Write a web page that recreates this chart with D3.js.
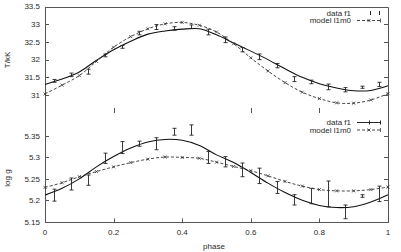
<!DOCTYPE html>
<html>
<head>
<meta charset="utf-8">
<script src="https://cdn.jsdelivr.net/npm/d3@7"></script>
<style>
body { margin: 0; background: #fff; }
text { font-family: "Liberation Sans", Arial, sans-serif; font-size: 8px; fill: #2a2a2a; }
</style>
</head>
<body>
<div id="chart"></div>
<script>
// phase grid of the two smooth curves
var phaseGrid = [0,0.05,0.1,0.15,0.2,0.25,0.3,0.35,0.4,0.45,0.5,0.55,0.6,0.65,0.7,0.75,0.8,0.85,0.9,0.95,1];
var teffFit = [31.30,31.45,31.65,31.98,32.28,32.52,32.72,32.81,32.86,32.87,32.70,32.47,32.24,32.00,31.74,31.50,31.32,31.20,31.12,31.13,31.26];
var teffModel = [31.03,31.28,31.55,31.95,32.35,32.65,32.87,33.01,33.05,32.97,32.78,32.45,32.05,31.68,31.35,31.08,30.90,30.78,30.77,30.86,31.04];
var loggFit = [5.212,5.228,5.250,5.278,5.302,5.322,5.336,5.342,5.340,5.328,5.306,5.288,5.265,5.240,5.218,5.200,5.188,5.183,5.185,5.196,5.213];
var loggModel = [5.230,5.241,5.255,5.267,5.278,5.288,5.296,5.301,5.300,5.298,5.289,5.279,5.269,5.257,5.244,5.233,5.225,5.222,5.222,5.225,5.231];

// measured points (data f1)
var dataPhase = [0.025,0.075,0.125,0.175,0.225,0.275,0.325,0.375,0.425,0.475,0.525,0.575,0.625,0.675,0.725,0.775,0.825,0.875,0.925,0.975];
var teffData = [31.40,31.57,31.66,32.12,32.36,32.75,32.92,32.88,32.93,32.78,32.56,32.28,32.08,31.83,31.45,31.37,31.23,31.15,31.22,31.30];
var teffErr = [0.04,0.05,0.07,0.04,0.04,0.05,0.07,0.05,0.05,0.08,0.08,0.06,0.08,0.06,0.07,0.05,0.08,0.06,0.03,0.06];
var loggData = [5.212,5.238,5.247,5.298,5.323,5.332,5.332,5.360,5.364,5.300,5.290,5.271,5.257,5.230,5.201,5.210,5.215,5.173,5.210,5.215];
var loggErr = [0.014,0.014,0.012,0.012,0.014,0.006,0.014,0.008,0.012,0.014,0.012,0.016,0.018,0.014,0.012,0.018,0.030,0.016,0.003,0.018];

var xTicks = [0,0.2,0.4,0.6,0.8,1];
var teffTicks = [31,31.5,32,32.5,33,33.5];
var loggTicks = [5.15,5.2,5.25,5.3,5.35];
var stubTicks = [0.2,0.6,0.8];

var width = 401, height = 252;
var svg = d3.select("#chart").append("svg").attr("width", width).attr("height", height);

var x = d3.scaleLinear().domain([0, 1]).range([45, 388]);
var yT = d3.scaleLinear().domain([30.5, 33.5]).range([112.75, 6.5]);
var yG = d3.scaleLinear().domain([5.15, 5.4]).range([221.7, 114.6]);

var frameTop = Math.round(yT(33.5)) + 0.5, frameBottom = Math.round(yG(5.15)) + 0.5;

// frame
svg.append("path")
    .attr("d", "M" + (x(0) + 0.5) + "," + frameTop + "V" + frameBottom + "H" + (x(1) + 0.5) + "V" + frameTop + "Z")
    .attr("fill", "none").attr("stroke", "#555").attr("stroke-width", 1);

function yTicks(scale, ticks) {
    ticks.forEach(function (t) {
        var yy = Math.round(scale(t)) + 0.5;
        svg.append("line").attr("x1", x(0)).attr("x2", x(0) + 4).attr("y1", yy).attr("y2", yy).attr("stroke", "#555");
        svg.append("line").attr("x1", x(1)).attr("x2", x(1) - 4).attr("y1", yy).attr("y2", yy).attr("stroke", "#555");
        svg.append("text").attr("x", x(0) - 5).attr("y", scale(t)).attr("dy", "0.35em")
            .attr("text-anchor", "end").text(t);
    });
}
yTicks(yT, teffTicks);
yTicks(yG, loggTicks);

xTicks.forEach(function (t) {
    var xx = Math.round(x(t)) + 0.5;
    svg.append("line").attr("x1", xx).attr("x2", xx).attr("y1", frameBottom).attr("y2", frameBottom - 4).attr("stroke", "#555");
    svg.append("text").attr("x", x(t)).attr("y", 235).attr("text-anchor", "middle").text(t);
});
stubTicks.forEach(function (t) {
    var xx = Math.round(x(t)) + 0.5;
    svg.append("line").attr("x1", xx).attr("x2", xx).attr("y1", 108).attr("y2", 113).attr("stroke", "#555");
});

// axis titles
svg.append("text").attr("transform", "translate(10,60) rotate(-90)").attr("text-anchor", "middle").text("T/kK");
svg.append("text").attr("transform", "translate(10,178) rotate(-90)").attr("text-anchor", "middle").text("log g");
svg.append("text").attr("x", 214).attr("y", 249).attr("text-anchor", "middle").text("phase");

function drawPanel(y, fit, model, data, err) {
    var line = d3.line().x(function (d, i) { return x(phaseGrid[i]); }).y(function (d) { return y(d); })
        .curve(d3.curveCatmullRom);
    svg.append("path").attr("d", line(fit)).attr("fill", "none").attr("stroke", "#111").attr("stroke-width", 1.1);
    svg.append("path").attr("d", line(model)).attr("fill", "none").attr("stroke", "#333")
        .attr("stroke-width", 0.9).attr("stroke-dasharray", "3,2");
    // x markers on the model
    model.forEach(function (v, i) {
        var cx = x(phaseGrid[i]), cy = y(v);
        svg.append("path").attr("d", "M" + (cx - 1.5) + "," + (cy - 1.5) + "L" + (cx + 1.5) + "," + (cy + 1.5) +
            "M" + (cx - 1.5) + "," + (cy + 1.5) + "L" + (cx + 1.5) + "," + (cy - 1.5))
            .attr("stroke", "#333").attr("stroke-width", 0.8);
    });
    // error bars
    data.forEach(function (v, i) {
        var cx = Math.round(x(dataPhase[i])) + 0.5, y1 = y(v - err[i]), y2 = y(v + err[i]);
        svg.append("path").attr("d", "M" + cx + "," + y1 + "V" + y2 + "M" + (cx - 2) + "," + y1 + "H" + (cx + 2) +
            "M" + (cx - 2) + "," + y2 + "H" + (cx + 2))
            .attr("fill", "none").attr("stroke", "#222").attr("stroke-width", 0.9);
    });
}
drawPanel(yT, teffFit, teffModel, teffData, teffErr);
drawPanel(yG, loggFit, loggModel, loggData, loggErr);

// keys
function key(top, solidSample) {
    var r1 = top, r2 = top + 7.5;
    svg.append("text").attr("x", 351).attr("y", r1).attr("dy", "0.35em").attr("text-anchor", "end").text("data f1");
    svg.append("text").attr("x", 351).attr("y", r2).attr("dy", "0.35em").attr("text-anchor", "end").text("model l1m0");
    if (solidSample) {
        svg.append("path").attr("d", "M357," + r1 + "H380M369.5," + (r1 - 2) + "V" + (r1 + 2) + "M380.5," + (r1 - 2) + "V" + (r1 + 2))
            .attr("fill", "none").attr("stroke", "#111").attr("stroke-width", 0.9);
    } else {
        svg.append("path").attr("d", "M370.5," + (r1 - 2) + "V" + (r1 + 2) + "M379.5," + (r1 - 2) + "V" + (r1 + 2))
            .attr("fill", "none").attr("stroke", "#111").attr("stroke-width", 0.9);
    }
    svg.append("path").attr("d", "M357," + r2 + "H380").attr("stroke", "#333").attr("stroke-width", 0.9).attr("stroke-dasharray", "3,2");
    svg.append("path").attr("d", "M367.5," + (r2 - 1.5) + "L370.5," + (r2 + 1.5) + "M367.5," + (r2 + 1.5) + "L370.5," + (r2 - 1.5) +
        "M380.5," + (r2 - 2) + "V" + (r2 + 2)).attr("fill", "none").attr("stroke", "#333").attr("stroke-width", 0.8);
}
key(13, false);
key(122.5, true);
</script>
</body>
</html>
